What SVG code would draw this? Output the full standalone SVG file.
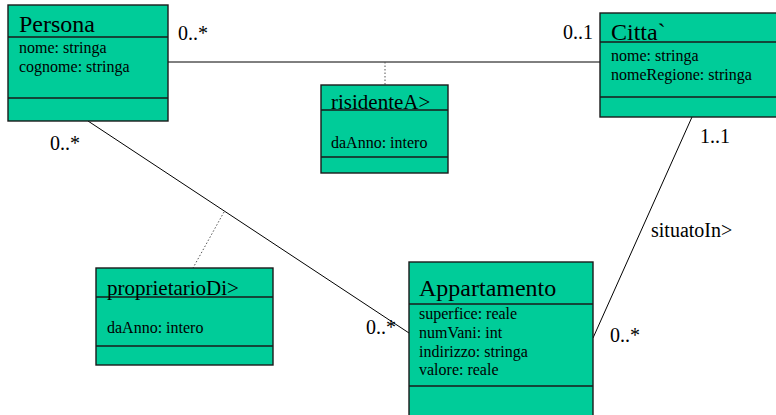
<svg xmlns="http://www.w3.org/2000/svg" width="776" height="415" viewBox="0 0 776 415">
<style>
.box{fill:#00CC99;stroke:#1a1a1a;stroke-width:1.4}
.div{stroke:#1a1a1a;stroke-width:1.4}
.t{font-family:"Liberation Serif","Times New Roman",serif;fill:#000}
.title{font-size:24px}
.rel{font-size:21px}
.attr{font-size:16px}
.mult{font-size:20px}
.line{stroke:#000;stroke-width:1;fill:none}
.dot{stroke:#555;stroke-width:1;stroke-dasharray:1.5,2;fill:none}
</style>
<rect width="776" height="415" fill="#fff"/>
<g id="connectors">
<line class="line" x1="168" y1="62" x2="600" y2="62"/>
<line class="dot" x1="385" y1="62" x2="385" y2="85"/>
<line class="line" x1="88" y1="121" x2="409" y2="333"/>
<line class="dot" x1="224" y1="212" x2="193" y2="268"/>
<line class="line" x1="692" y1="117" x2="593" y2="338"/>
<text class="t mult" x="178" y="40">0..*</text>
<text class="t mult" x="563" y="39">0..1</text>
<text class="t mult" x="50" y="150">0..*</text>
<text class="t mult" x="366" y="334">0..*</text>
<text class="t mult" x="610" y="342">0..*</text>
<text class="t mult" x="700" y="143">1..1</text>
<text class="t mult" x="651" y="237">situatoIn&gt;</text>
</g>
<g id="persona">
<rect class="box" x="8" y="5" width="160" height="116"/>
<line class="div" x1="8" y1="37" x2="168" y2="37"/>
<line class="div" x1="8" y1="98" x2="168" y2="98"/>
<text class="t title" x="19" y="32">Persona</text>
<text class="t attr" x="19" y="53">nome: stringa</text>
<text class="t attr" x="19" y="72">cognome: stringa</text>
</g>
<g id="citta">
<rect class="box" x="600" y="13" width="180" height="104"/>
<line class="div" x1="600" y1="42" x2="780" y2="42"/>
<line class="div" x1="600" y1="97" x2="780" y2="97"/>
<text class="t title" x="611" y="40">Citta`</text>
<text class="t attr" x="611" y="61">nome: stringa</text>
<text class="t attr" x="611" y="80">nomeRegione: stringa</text>
</g>
<g id="risidenteA">
<rect class="box" x="321" y="85" width="127" height="88"/>
<line class="div" x1="321" y1="110" x2="448" y2="110"/>
<line class="div" x1="321" y1="157" x2="448" y2="157"/>
<text class="t rel" x="331" y="109">risidenteA&gt;</text>
<text class="t attr" x="331" y="148">daAnno: intero</text>
</g>
<g id="proprietarioDi">
<rect class="box" x="96" y="268" width="177" height="97"/>
<line class="div" x1="96" y1="297" x2="273" y2="297"/>
<line class="div" x1="96" y1="346" x2="273" y2="346"/>
<text class="t rel" x="107" y="295">proprietarioDi&gt;</text>
<text class="t attr" x="107" y="333">daAnno: intero</text>
</g>
<g id="appartamento">
<rect class="box" x="409" y="262" width="184" height="160"/>
<line class="div" x1="409" y1="304" x2="593" y2="304"/>
<line class="div" x1="409" y1="386" x2="593" y2="386"/>
<text class="t title" x="419" y="296">Appartamento</text>
<text class="t attr" x="419" y="319">superfice: reale</text>
<text class="t attr" x="419" y="338">numVani: int</text>
<text class="t attr" x="419" y="357">indirizzo: stringa</text>
<text class="t attr" x="419" y="375">valore: reale</text>
</g>
</svg>
